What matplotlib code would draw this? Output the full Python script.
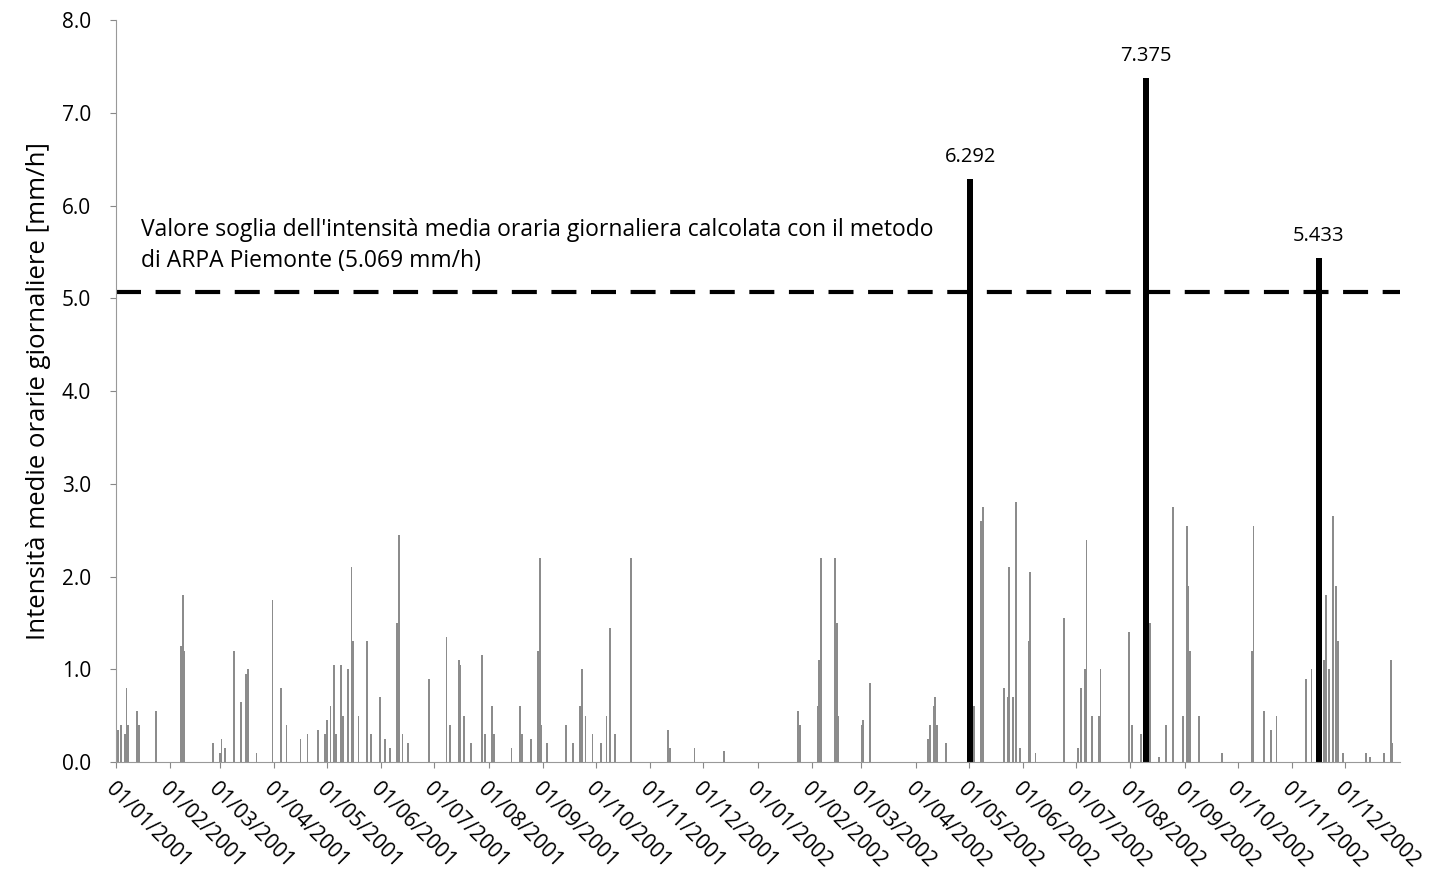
import pandas as pd
import matplotlib.pyplot as plt
import matplotlib.dates as mdates

plt.rcParams['font.family'] = ['Open Sans', 'DejaVu Sans']

# daily mean hourly intensity [mm/h] - only rainy days listed, the rest are 0
rain_dates = [
    '2001-01-02', '2001-01-04', '2001-01-06', '2001-01-07', '2001-01-08', '2001-01-13', '2001-01-14',
    '2001-01-24', '2001-02-07', '2001-02-08', '2001-02-09', '2001-02-25', '2001-03-01', '2001-03-02',
    '2001-03-04', '2001-03-09', '2001-03-13', '2001-03-16', '2001-03-17', '2001-03-22', '2001-03-31',
    '2001-04-05', '2001-04-08', '2001-04-16', '2001-04-20', '2001-04-26', '2001-04-30', '2001-05-01',
    '2001-05-03', '2001-05-05', '2001-05-06', '2001-05-09', '2001-05-10', '2001-05-13', '2001-05-15',
    '2001-05-16', '2001-05-19', '2001-05-24', '2001-05-26', '2001-05-31', '2001-06-03', '2001-06-06',
    '2001-06-10', '2001-06-11', '2001-06-13', '2001-06-16', '2001-06-28', '2001-07-08', '2001-07-10',
    '2001-07-15', '2001-07-16', '2001-07-18', '2001-07-22', '2001-07-28', '2001-07-30', '2001-08-03',
    '2001-08-04', '2001-08-14', '2001-08-19', '2001-08-20', '2001-08-25', '2001-08-29', '2001-08-30',
    '2001-08-31', '2001-09-03', '2001-09-14', '2001-09-18', '2001-09-22', '2001-09-23', '2001-09-25',
    '2001-09-29', '2001-10-04', '2001-10-07', '2001-10-09', '2001-10-12', '2001-10-21', '2001-11-11',
    '2001-11-12', '2001-11-26', '2001-12-13',
    '2002-01-24', '2002-01-25', '2002-02-04', '2002-02-05', '2002-02-06', '2002-02-14', '2002-02-15',
    '2002-02-16', '2002-03-01', '2002-03-02', '2002-03-06', '2002-04-08', '2002-04-09', '2002-04-11',
    '2002-04-12', '2002-04-13', '2002-04-18', '2002-05-01', '2002-05-03', '2002-05-04', '2002-05-08',
    '2002-05-09', '2002-05-21', '2002-05-23', '2002-05-24', '2002-05-26', '2002-05-28', '2002-05-30',
    '2002-06-04', '2002-06-05', '2002-06-08', '2002-06-24', '2002-07-02', '2002-07-04', '2002-07-06',
    '2002-07-07', '2002-07-10', '2002-07-14', '2002-07-15', '2002-07-31', '2002-08-02', '2002-08-07',
    '2002-08-12', '2002-08-17', '2002-08-21', '2002-08-25', '2002-08-31', '2002-09-02', '2002-09-03',
    '2002-09-04', '2002-09-09', '2002-09-22', '2002-10-09', '2002-10-10', '2002-10-16', '2002-10-20',
    '2002-10-23', '2002-11-09', '2002-11-12', '2002-11-19', '2002-11-20', '2002-11-22', '2002-11-24',
    '2002-11-26', '2002-11-27', '2002-11-30', '2002-12-13', '2002-12-15', '2002-12-23', '2002-12-27',
    '2002-12-28',
]
rain_values = [
    0.35, 0.40, 0.30, 0.80, 0.40, 0.55, 0.40,
    0.55, 1.25, 1.80, 1.20, 0.20, 0.10, 0.25,
    0.15, 1.20, 0.65, 0.95, 1.00, 0.10, 1.75,
    0.80, 0.40, 0.25, 0.30, 0.35, 0.30, 0.45,
    0.60, 1.05, 0.30, 1.05, 0.50, 1.00, 2.10,
    1.30, 0.50, 1.30, 0.30, 0.70, 0.25, 0.15,
    1.50, 2.45, 0.30, 0.20, 0.90, 1.35, 0.40,
    1.10, 1.05, 0.50, 0.20, 1.15, 0.30, 0.60,
    0.30, 0.15, 0.60, 0.30, 0.25, 1.20, 2.20,
    0.40, 0.20, 0.40, 0.20, 0.60, 1.00, 0.50,
    0.30, 0.20, 0.50, 1.45, 0.30, 2.20, 0.35,
    0.15, 0.15, 0.12,
    0.55, 0.40, 0.60, 1.10, 2.20, 2.20, 1.50,
    0.50, 0.40, 0.45, 0.85, 0.25, 0.40, 0.60,
    0.70, 0.40, 0.20, 0.70, 1.00, 0.60, 2.60,
    2.75, 0.80, 0.70, 2.10, 0.70, 2.80, 0.15,
    1.30, 2.05, 0.10, 1.55, 0.15, 0.80, 1.00,
    2.40, 0.50, 0.50, 1.00, 1.40, 0.40, 0.30,
    1.50, 0.05, 0.40, 2.75, 0.50, 2.55, 1.90,
    1.20, 0.50, 0.10, 1.20, 2.55, 0.55, 0.35,
    0.50, 0.90, 1.00, 1.10, 1.80, 1.00, 2.65,
    1.90, 1.30, 0.10, 0.10, 0.05, 0.10, 1.10,
    0.20,
]

# days above the threshold
peak_dates = ['2002-05-02', '2002-08-10', '2002-11-16']
peak_values = [6.292, 7.375, 5.433]
peak_labels = ['6.292', '7.375', '5.433']

threshold = 5.069
threshold_text = ("Valore soglia dell'intensità media oraria giornaliera calcolata con il metodo\n"
                  "di ARPA Piemonte (5.069 mm/h)")

days = pd.date_range('2001-01-01', '2002-12-31', freq='D')
series = pd.Series(0.0, index=days)
series[pd.to_datetime(rain_dates)] = rain_values

fig = plt.figure(figsize=(14.31, 8.84), dpi=100)
ax = fig.add_axes([0.081, 0.138, 0.897, 0.839])

ax.bar(series.index, series.values, width=1.0, color='#8c8c8c', linewidth=0)
ax.bar(pd.to_datetime(peak_dates), peak_values, width=3.4, color='black', linewidth=0)

for d, v, lab in zip(pd.to_datetime(peak_dates), peak_values, peak_labels):
    ax.text(d, v + 0.13, lab, ha='center', va='bottom', fontsize=14.5)

ax.axhline(threshold, color='black', linewidth=3, linestyle=(0, (6, 3.5)))
ax.text(pd.Timestamp('2001-01-15'), 5.575, threshold_text, ha='left', va='center',
        fontsize=16.5, linespacing=1.4)

ax.set_xlim(pd.Timestamp('2001-01-01'), pd.Timestamp('2003-01-01'))
ax.set_ylim(0, 8)
ax.set_yticks([i * 1.0 for i in range(9)])
ax.yaxis.set_major_formatter(plt.FormatStrFormatter('%.1f'))

ticks = pd.date_range('2001-01-01', '2002-12-01', freq='MS')
ax.set_xticks(ticks)
ax.xaxis.set_major_formatter(mdates.DateFormatter('%d/%m/%Y'))
plt.setp(ax.get_xticklabels(), rotation=-45, ha='left', va='top', rotation_mode='anchor')
ax.tick_params(axis='both', labelsize=15, length=4, color='#888888')
ax.tick_params(axis='x', pad=8)
ax.tick_params(axis='y', pad=14)

ax.set_ylabel('Intensità medie orarie giornaliere [mm/h]', fontsize=18.5, labelpad=8)

for s in ['top', 'right']:
    ax.spines[s].set_visible(False)
ax.spines['left'].set_color('#999999')
ax.spines['bottom'].set_color('#999999')

fig.savefig('out.png', dpi=100)
